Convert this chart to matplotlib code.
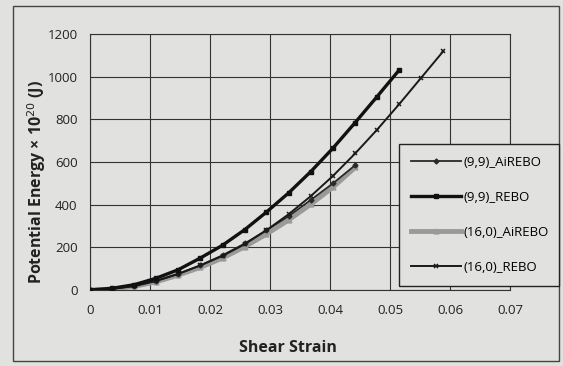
import matplotlib.pyplot as plt
from matplotlib.patches import Rectangle

# strain steps
strain_99 = [0, 0.0037, 0.0074, 0.011, 0.0147, 0.0184, 0.0221, 0.0258, 0.0294,
             0.0331, 0.0368, 0.0405, 0.0442, 0.0478, 0.0515]
strain_160 = [0, 0.0037, 0.0074, 0.011, 0.0147, 0.0184, 0.0221, 0.0258, 0.0294,
              0.0331, 0.0368, 0.0405, 0.0442, 0.0478, 0.0515, 0.0552, 0.0589]
strain_airebo = [0, 0.0037, 0.0074, 0.011, 0.0147, 0.0184, 0.0221, 0.0258, 0.0294,
                 0.0331, 0.0368, 0.0405, 0.0442]

# potential energy x 1e20 (J)
e_99_airebo = [0, 6, 20, 43, 76, 116, 163, 218, 280, 346, 422, 500, 585]
e_99_rebo = [0, 8, 25, 55, 95, 150, 210, 283, 365, 455, 555, 665, 785, 905, 1030]
e_160_airebo = [0, 4, 17, 38, 70, 106, 150, 203, 262, 328, 402, 482, 575]
e_160_rebo = [0, 5, 18, 42, 75, 115, 160, 215, 280, 355, 440, 535, 640, 750, 870, 995, 1120]

labels = ['(9,9)_AiREBO', '(9,9)_REBO', '(16,0)_AiREBO', '(16,0)_REBO']
x_ticks = [0, 0.01, 0.02, 0.03, 0.04, 0.05, 0.06, 0.07]
x_ticklabels = ['0', '0.01', '0.02', '0.03', '0.04', '0.05', '0.06', '0.07']
y_ticks = [0, 200, 400, 600, 800, 1000, 1200]

plt.rcParams['font.family'] = ['Open Sans', 'DejaVu Sans']
bg = '#e1e1df'

fig = plt.figure(figsize=(5.63, 3.66), dpi=100, facecolor=bg)
ax = fig.add_axes([90 / 563, 1 - 290 / 366, 420 / 563, 256 / 366])
ax.set_facecolor(bg)

# chart area border
fig.patches.append(Rectangle((13 / 563, 1 - 361 / 366), 546 / 563, 355 / 366,
                             transform=fig.transFigure, fill=False,
                             edgecolor='#444444', lw=1.0))

l3, = ax.plot(strain_airebo, e_160_airebo, color='#9a9a9a', lw=3.5, marker='^',
              ms=3.5, zorder=2)
l1, = ax.plot(strain_airebo, e_99_airebo, color='#2a2a2a', lw=1.3, marker='D',
              ms=2.5, zorder=3)
l4, = ax.plot(strain_160, e_160_rebo, color='#1a1a1a', lw=1.4, marker='x',
              ms=3.5, mew=1.1, zorder=3)
l2, = ax.plot(strain_99, e_99_rebo, color='#111111', lw=2.4, marker='s',
              ms=3.5, zorder=4)

ax.set_xlim(0, 0.07)
ax.set_ylim(0, 1200)
ax.set_xticks(x_ticks)
ax.set_xticklabels(x_ticklabels)
ax.set_yticks(y_ticks)
ax.tick_params(length=0, labelsize=9.5, colors='#222222')
ax.tick_params(axis='x', pad=10)
ax.tick_params(axis='y', pad=9)
ax.grid(True, color='#333333', lw=0.8)
ax.set_axisbelow(True)
for s in ax.spines.values():
    s.set_color('#333333')
    s.set_linewidth(0.8)

fig.text(37 / 563, 1 - 182 / 366, 'Potential Energy × 10$^{20}$ (J)', rotation=90,
         ha='center', va='center', fontsize=11.5, fontweight='bold', color='#222222')
fig.text(288 / 563, 1 - 348 / 366, 'Shear Strain', ha='center', va='center',
         fontsize=11.5, fontweight='bold', color='#222222')

leg = fig.legend([l1, l2, l3, l4], labels, loc='upper left', mode='expand',
                 bbox_to_anchor=(399 / 563, 1 - 286 / 366, 160 / 563, 142 / 366),
                 fontsize=9.5, handlelength=3.8, handletextpad=0.2,
                 labelspacing=1.67, borderpad=0.9, borderaxespad=0,
                 fancybox=False, framealpha=1, facecolor=bg, edgecolor='#222222')
leg.get_frame().set_linewidth(1.0)

fig.savefig('out.png', dpi=100, facecolor=bg)
